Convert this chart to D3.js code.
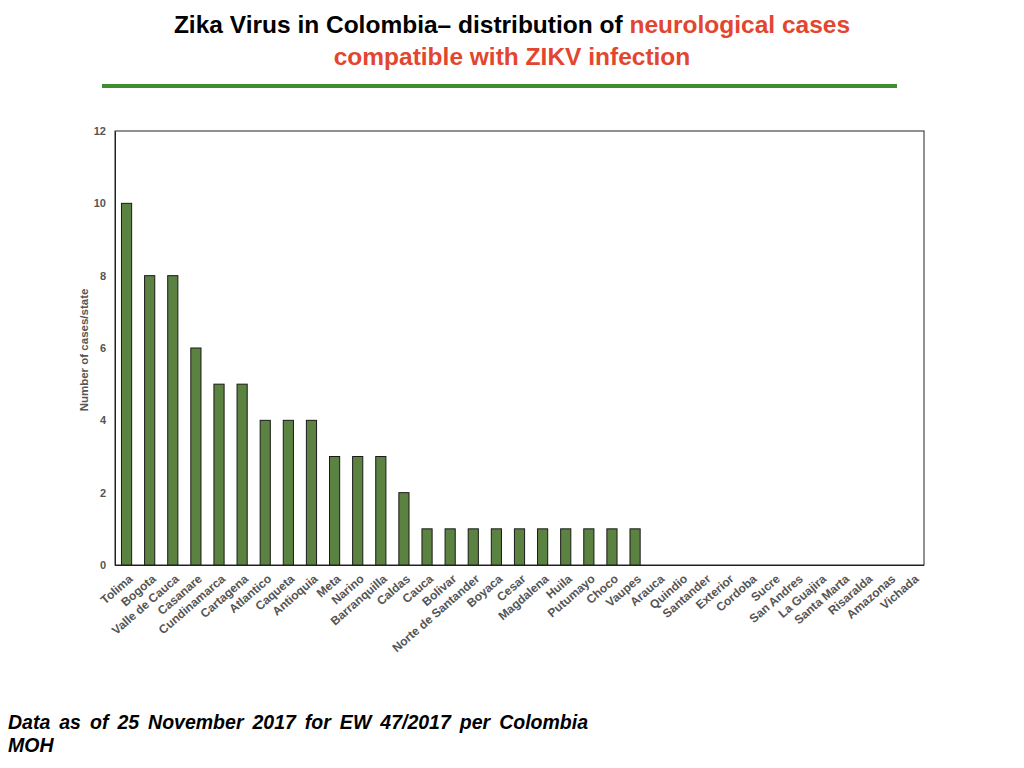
<!DOCTYPE html>
<html><head><meta charset="utf-8">
<script src="https://cdn.jsdelivr.net/npm/d3@7"></script>
<style>
body{margin:0;background:#fff;}
svg{display:block;}
</style></head>
<body>
<svg id="chart" width="1024" height="768"></svg>
<script>
const categories = ["Tolima","Bogota","Valle de Cauca","Casanare","Cundinamarca","Cartagena","Atlantico","Caqueta","Antioquia","Meta","Narino","Barranquilla","Caldas","Cauca","Bolivar","Norte de Santander","Boyaca","Cesar","Magdalena","Huila","Putumayo","Choco","Vaupes","Arauca","Quindio","Santander","Exterior","Cordoba","Sucre","San Andres","La Guajira","Santa Marta","Risaralda","Amazonas","Vichada"];
const cases = [10,8,8,6,5,5,4,4,4,3,3,3,2,1,1,1,1,1,1,1,1,1,1,0,0,0,0,0,0,0,0,0,0,0,0];
const yTicks = [0,2,4,6,8,10,12];

const svg = d3.select("#chart");
const pL=115, pR=924, pT=131, pB=565;
const narrow = "'Liberation Sans Narrow','Arial Narrow',sans-serif";
const sans = "Arial, 'Liberation Sans', sans-serif";

// Title
const title = svg.append("text").attr("x",512).attr("y",33).attr("text-anchor","middle")
  .style("font-family",narrow).style("font-weight","bold").style("font-size","24.5px");
title.append("tspan").attr("fill","#000").text("Zika Virus in Colombia\u2013  distribution of ");
title.append("tspan").attr("fill","#e2462f").text("neurological cases");
svg.append("text").attr("x",512).attr("y",65).attr("text-anchor","middle")
  .style("font-family",narrow).style("font-weight","bold").style("font-size","24.5px")
  .attr("fill","#e2462f").text("compatible with ZIKV infection");
svg.append("line").attr("x1",102).attr("x2",897).attr("y1",86).attr("y2",86)
  .attr("stroke","#3d8f2e").attr("stroke-width",4);

const x = d3.scaleBand().domain(categories).range([pL,pR]).paddingInner(0.56).paddingOuter(0.28);
const y = d3.scaleLinear().domain([0,12]).range([pB,pT]);

// Plot frame
svg.append("rect").attr("x",pL).attr("y",pT).attr("width",pR-pL).attr("height",pB-pT)
  .attr("fill","none").attr("stroke","#222").attr("stroke-width",1);

// Bars
svg.append("g").selectAll("rect").data(categories).join("rect")
  .attr("x",d=>x(d)).attr("width",x.bandwidth())
  .attr("y",(d,i)=>y(cases[i])).attr("height",(d,i)=>y(0)-y(cases[i]))
  .attr("fill","#5b8240").attr("stroke","#1a1a1a").attr("stroke-width",1);

// Y axis
const yAxis = svg.append("g").attr("transform",`translate(${pL},0)`)
  .call(d3.axisLeft(y).tickValues(yTicks).tickSize(0).tickPadding(9));
yAxis.select(".domain").attr("stroke","#222");
yAxis.selectAll("text").style("font-family",sans).style("font-weight","bold")
  .style("font-size","11px").attr("fill","#555");

// X axis
const xAxis = svg.append("g").attr("transform",`translate(0,${pB})`)
  .call(d3.axisBottom(x).tickSize(0).tickPadding(0));
xAxis.select(".domain").attr("stroke","#222").attr("d",`M${pL},0.5H${pR}`);
xAxis.selectAll("text")
  .style("font-family",sans).style("font-weight","bold")
  .style("font-size","12px").attr("fill","#555")
  .attr("text-anchor","end").attr("dy","0")
  .attr("transform","translate(7,15) rotate(-41)");

// Y title
svg.append("text").attr("transform","translate(88,350) rotate(-90)").attr("text-anchor","middle")
  .style("font-family",sans).style("font-weight","bold").style("font-size","11.5px")
  .attr("fill","#555").text("Number of cases/state");

// Footer
const foot = svg.append("g").style("font-family",sans).style("font-weight","bold")
  .style("font-style","italic").style("font-size","19.5px").attr("fill","#000");
const f1 = foot.append("text").attr("x",8).attr("y",729)
  .text("Data as of 25 November 2017 for EW 47/2017 per Colombia");
const natural = f1.node().getComputedTextLength();
const spaces = (f1.text().match(/ /g)||[]).length;
f1.style("word-spacing", Math.max(0,(580 - natural)/spaces) + "px");
foot.append("text").attr("x",8).attr("y",752).text("MOH");
</script>
</body></html>
